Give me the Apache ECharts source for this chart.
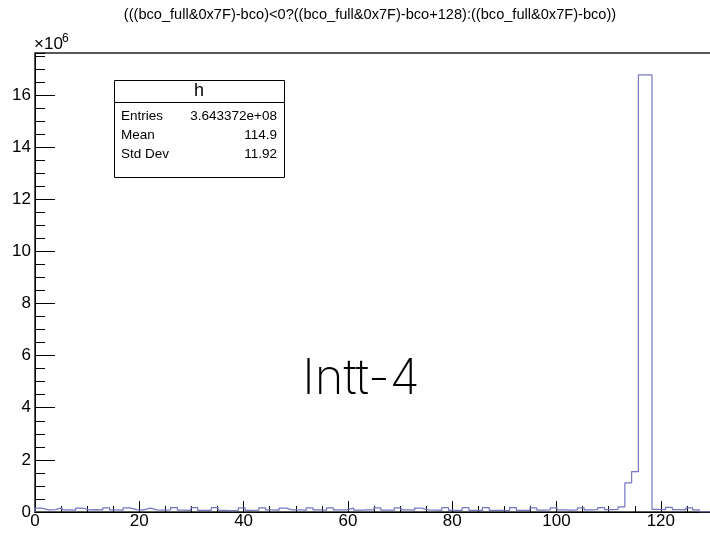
<!DOCTYPE html>
<html>
<head>
<meta charset="utf-8">
<script src="https://cdn.jsdelivr.net/npm/echarts@6/dist/echarts.min.js"></script>
<style>
  html, body { margin: 0; padding: 0; background: #fff; }
  #chart { width: 710px; height: 540px; }
</style>
</head>
<body>
<div id="chart"></div>
<script>
// Histogram "h": 100 bins over [0, 130), contents in units of 1e6 entries
const histLow = 0;
const histHigh = 130;
const binCounts = [
  0.15, 0.08, 0.09, 0.16, 0.08, 0.07, 0.15, 0.08, 0.09, 0.08,
  0.16, 0.08, 0.07, 0.16, 0.09, 0.08, 0.15, 0.08, 0.07, 0.08,
  0.17, 0.07, 0.06, 0.17, 0.06, 0.06, 0.17, 0.06, 0.05, 0.06,
  0.16, 0.06, 0.07, 0.16, 0.08, 0.07, 0.15, 0.08, 0.08, 0.07,
  0.16, 0.08, 0.07, 0.16, 0.08, 0.08, 0.15, 0.07, 0.08, 0.08,
  0.16, 0.07, 0.07, 0.16, 0.08, 0.07, 0.15, 0.08, 0.07, 0.06,
  0.17, 0.06, 0.06, 0.17, 0.06, 0.06, 0.17, 0.06, 0.06, 0.05,
  0.17, 0.06, 0.06, 0.16, 0.07, 0.08, 0.16, 0.08, 0.07, 0.08,
  0.16, 0.08, 0.09, 0.17, 0.09, 0.10, 0.20, 1.12, 1.55, 16.77,
  16.77, 0.10, 0.09, 0.18, 0.09, 0.08, 0.16, 0.08, 0.00, 0.00
];
const yMax = 17.61;

const xTickLabels = ['0', '20', '40', '60', '80', '100', '120'];
const yTickLabels = ['0', '2', '4', '6', '8', '10', '12', '14', '16'];

const titleText = '(((bco_full&0x7F)-bco)<0?((bco_full&0x7F)-bco+128):((bco_full&0x7F)-bco))';
const statsName = 'h';
const statsLabels = ['Entries', 'Mean', 'Std Dev'];
const statsValues = ['3.643372e+08', '114.9', '11.92'];
const overlayText = 'Intt-4';

// Outline points at each bin's low edge, closed back to zero at the upper edge
const binWidth = (histHigh - histLow) / binCounts.length;
const outline = [[histLow, 0]];
binCounts.forEach((v, i) => outline.push([histLow + i * binWidth, v]));
outline.push([histHigh, 0]);

const FONT = 'Liberation Sans, Arial, Helvetica, sans-serif';
const tickLabel = (list) => (v) => {
  const s = String(Math.round(v * 1000) / 1000);
  return list.indexOf(s) >= 0 ? s : '';
};

const chart = echarts.init(document.getElementById('chart'), null, { renderer: 'canvas' });

const statsGraphics = [
  { type: 'rect', shape: { x: 114.5, y: 80.5, width: 170, height: 97 },
    style: { fill: '#fff', stroke: '#000', lineWidth: 1 }, z: 10 },
  { type: 'line', shape: { x1: 114.5, y1: 102.5, x2: 284.5, y2: 102.5 },
    style: { stroke: '#000', lineWidth: 1 }, z: 11 },
  { type: 'text', x: 199, y: 91, z: 11,
    style: { text: statsName, font: '18px ' + FONT, fill: '#000', align: 'center', verticalAlign: 'middle' } }
];
statsLabels.forEach((lab, i) => {
  const y = 116.5 + i * 18.7;
  statsGraphics.push({ type: 'text', x: 121, y: y, z: 11,
    style: { text: lab, font: '13.5px ' + FONT, fill: '#000', align: 'left', verticalAlign: 'middle' } });
  statsGraphics.push({ type: 'text', x: 277, y: y, z: 11,
    style: { text: statsValues[i], font: '13.5px ' + FONT, fill: '#000', align: 'right', verticalAlign: 'middle' } });
});

const option = {
  backgroundColor: '#fff',
  animation: false,
  grid: {
    left: 35, top: 53, right: -3, bottom: 28,
    show: true, borderColor: '#222', borderWidth: 1.5,
    containLabel: false, outerBoundsMode: 'none'
  },
  xAxis: [
    {
      type: 'value', min: histLow, max: histHigh, interval: 20, position: 'bottom',
      axisLine: { show: true, onZero: false, lineStyle: { color: '#000', width: 1 } },
      axisTick: { show: true, inside: true, length: 11, lineStyle: { color: '#000', width: 1 } },
      axisLabel: { show: true, color: '#000', fontFamily: FONT, fontSize: 17, margin: 1,
                   showMaxLabel: false, formatter: tickLabel(xTickLabels) },
      splitLine: { show: false }
    },
    {
      type: 'value', min: histLow, max: histHigh, interval: 5, position: 'bottom',
      axisLine: { show: false, onZero: false },
      axisTick: { show: true, inside: true, length: 6, lineStyle: { color: '#000', width: 1 } },
      axisLabel: { show: false },
      splitLine: { show: false }
    }
  ],
  yAxis: [
    {
      type: 'value', min: 0, max: yMax, interval: 2, position: 'left',
      axisLine: { show: true, onZero: false, lineStyle: { color: '#000', width: 1 } },
      axisTick: { show: true, inside: true, length: 20, lineStyle: { color: '#000', width: 1 } },
      axisLabel: { show: true, color: '#000', fontFamily: FONT, fontSize: 17, margin: 4,
                   showMaxLabel: false, formatter: tickLabel(yTickLabels) },
      splitLine: { show: false }
    },
    {
      type: 'value', min: 0, max: yMax, interval: 0.5, position: 'left',
      axisLine: { show: false, onZero: false },
      axisTick: { show: true, inside: true, length: 10, lineStyle: { color: '#000', width: 1 } },
      axisLabel: { show: false },
      splitLine: { show: false }
    }
  ],
  series: [
    {
      type: 'line', xAxisIndex: 0, yAxisIndex: 0,
      data: outline, step: 'end', symbol: 'none', clip: true,
      lineStyle: { color: '#7676c2', width: 1.2 },
      z: 3
    }
  ],
  graphic: [
    { type: 'text', x: 370, y: 15,
      style: { text: titleText, font: '14.6px ' + FONT, fill: '#000', align: 'center', verticalAlign: 'middle' } },
    { type: 'text', x: 34, y: 44,
      style: { text: '\u00d710', font: '17px ' + FONT, fill: '#000', align: 'left', verticalAlign: 'middle' } },
    { type: 'text', x: 62, y: 38.5,
      style: { text: '6', font: '12px ' + FONT, fill: '#000', align: 'left', verticalAlign: 'middle' } },
    ...statsGraphics,
    { type: 'text', x: 361, y: 379, z: 12,
      style: { text: overlayText, font: '250 49px Inter, "Noto Sans", sans-serif', fill: '#000', align: 'center', verticalAlign: 'middle' } }
  ]
};

chart.setOption(option);
</script>
</body>
</html>
